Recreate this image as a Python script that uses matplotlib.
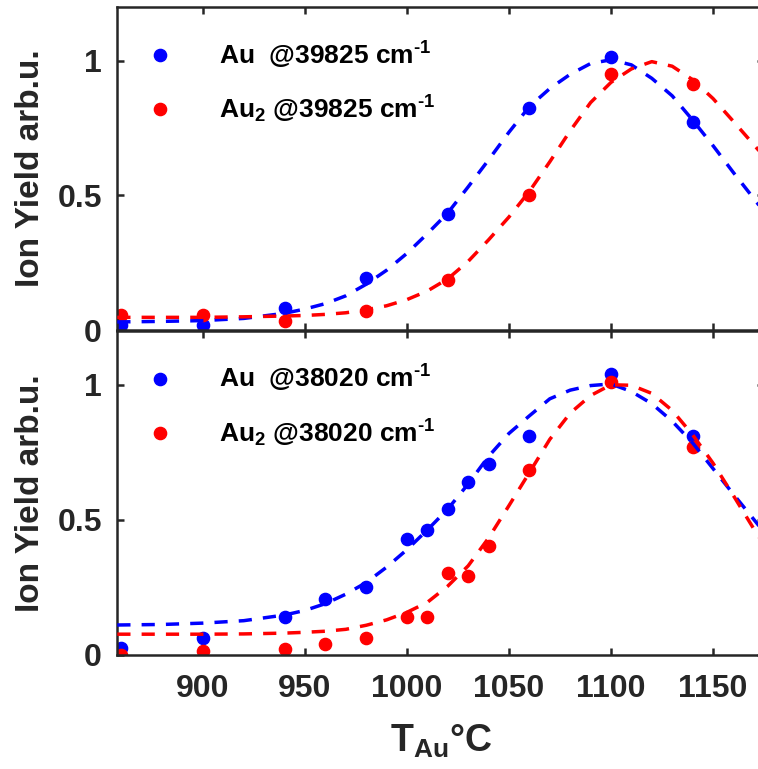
import matplotlib
matplotlib.use('Agg')
import matplotlib.pyplot as plt

# ---------------- data ----------------
temps_top = [860, 900, 940, 980, 1020, 1060, 1100, 1140]
au_top = [0.019, 0.020, 0.080, 0.194, 0.430, 0.826, 1.016, 0.772]
au2_top = [0.056, 0.056, 0.033, 0.072, 0.186, 0.502, 0.950, 0.913]

temps_bot = [860, 900, 940, 960, 980, 1000, 1010, 1020, 1030, 1040, 1060, 1100, 1140]
au_bot = [0.027, 0.064, 0.142, 0.206, 0.253, 0.430, 0.463, 0.541, 0.640, 0.706, 0.812, 1.040, 0.809]
au2_bot = [0.000, 0.015, 0.021, 0.040, 0.062, 0.142, 0.142, 0.302, 0.294, 0.405, 0.685, 1.012, 0.771]

# fitted curves (dashed)
fit_T = [858, 880, 900, 920, 940, 950, 960, 970, 980, 990, 1000, 1010, 1020, 1030,
         1040, 1050, 1060, 1070, 1080, 1090, 1100, 1110, 1120, 1130, 1140, 1150, 1160, 1175]
fit_au_top = [0.030, 0.032, 0.035, 0.043, 0.062, 0.078, 0.098, 0.127, 0.170, 0.222, 0.285, 0.358,
              0.435, 0.532, 0.632, 0.735, 0.830, 0.897, 0.950, 0.990, 1.004, 0.985, 0.935, 0.870,
              0.780, 0.685, 0.585, 0.440]
fit_au2_top = [0.047, 0.047, 0.047, 0.049, 0.052, 0.054, 0.058, 0.064, 0.075, 0.090, 0.113, 0.145,
               0.190, 0.255, 0.335, 0.420, 0.515, 0.625, 0.740, 0.845, 0.920, 0.970, 0.997, 0.980,
               0.930, 0.860, 0.775, 0.645]
fit_au_bot = [0.111, 0.113, 0.118, 0.127, 0.148, 0.165, 0.190, 0.225, 0.268, 0.325, 0.390, 0.463,
              0.540, 0.633, 0.735, 0.820, 0.885, 0.948, 0.980, 0.997, 1.003, 0.975, 0.930, 0.865,
              0.785, 0.690, 0.595, 0.455]
fit_au2_bot = [0.077, 0.077, 0.077, 0.078, 0.081, 0.084, 0.088, 0.095, 0.110, 0.130, 0.158, 0.195,
               0.255, 0.330, 0.433, 0.553, 0.675, 0.798, 0.895, 0.960, 1.000, 0.998, 0.968, 0.905,
               0.815, 0.710, 0.590, 0.405]

labels_top = ['Au  @39825 cm$^{\u20101}$', 'Au$_{2}$ @39825 cm$^{\u20101}$']
labels_bot = ['Au  @38020 cm$^{\u20101}$', 'Au$_{2}$ @38020 cm$^{\u20101}$']
xticks = [900, 950, 1000, 1050, 1100, 1150]
yticks = [0, 0.5, 1]
yticklabels = ['0', '0.5', '1']
xlabel = 'T$_{Au}$°C'
ylabel = 'Ion Yield arb.u.'

# ---------------- style ----------------
plt.rcParams['font.family'] = ['Liberation Sans', 'DejaVu Sans']
plt.rcParams['font.weight'] = 'bold'
plt.rcParams['mathtext.fontset'] = 'custom'
plt.rcParams['mathtext.rm'] = 'Liberation Sans:bold'
plt.rcParams['mathtext.bf'] = 'Liberation Sans:bold'
plt.rcParams['mathtext.it'] = 'Liberation Sans:bold'
plt.rcParams['mathtext.default'] = 'bf'

AX_COL = '#262626'
W, H = 758, 769
fig = plt.figure(figsize=(W / 100, H / 100), dpi=100)

left = 117.3 / W
right = 764.0 / W
ax_top = fig.add_axes([left, 1 - 330.0 / H, right - left, (330.0 - 7.0) / H])
ax_bot = fig.add_axes([left, 1 - 655.0 / H, right - left, (655.0 - 330.7) / H])

legend_prop = {'family': 'Liberation Sans', 'weight': 'bold', 'size': 19}


def draw(ax, T, a, a2, fa, fa2, labels):
    ax.plot(T, a, 'o', color=(0, 0, 1), markersize=8.8, label=labels[0], zorder=2)
    ax.plot(T, a2, 'o', color=(1, 0, 0), markersize=8.8, label=labels[1], zorder=2)
    ax.plot(fit_T, fa, color=(0, 0, 1), lw=2.5, dashes=(3.8, 3.2), zorder=3)
    ax.plot(fit_T, fa2, color=(1, 0, 0), lw=2.5, dashes=(3.8, 3.2), zorder=3)
    ax.set_xlim(858, 1175)
    ax.set_ylim(0, 1.2)
    ax.set_xticks(xticks)
    ax.set_yticks(yticks)
    ax.set_yticklabels(yticklabels)
    for s in ax.spines.values():
        s.set_linewidth(1.8)
        s.set_color(AX_COL)
    ax.tick_params(direction='in', top=True, right=True, length=5, width=1.8,
                   color=AX_COL, labelcolor=AX_COL, labelsize=23)
    ax.tick_params(axis='x', pad=14)
    ax.tick_params(axis='y', pad=11)
    ax.set_ylabel(ylabel, fontsize=24, color=AX_COL, fontweight='bold')
    ax.yaxis.set_label_coords(-0.110, 0.5)
    leg = ax.legend(loc='upper left', bbox_to_anchor=(0.0456, 0.90), frameon=False,
                    numpoints=1, handlelength=1.0, handletextpad=1.73, labelspacing=0.87,
                    borderpad=0, borderaxespad=0, prop=legend_prop)
    for t in leg.get_texts():
        t.set_color('black')


draw(ax_top, temps_top, au_top, au2_top, fit_au_top, fit_au2_top, labels_top)
draw(ax_bot, temps_bot, au_bot, au2_bot, fit_au_bot, fit_au2_bot, labels_bot)
ax_top.tick_params(axis='x', labelbottom=False)

ax_bot.set_xlabel(xlabel, fontsize=27, fontweight='bold', color=AX_COL)
ax_bot.xaxis.set_label_coords(0.5, -0.21)

fig.savefig('out.png', dpi=100)
